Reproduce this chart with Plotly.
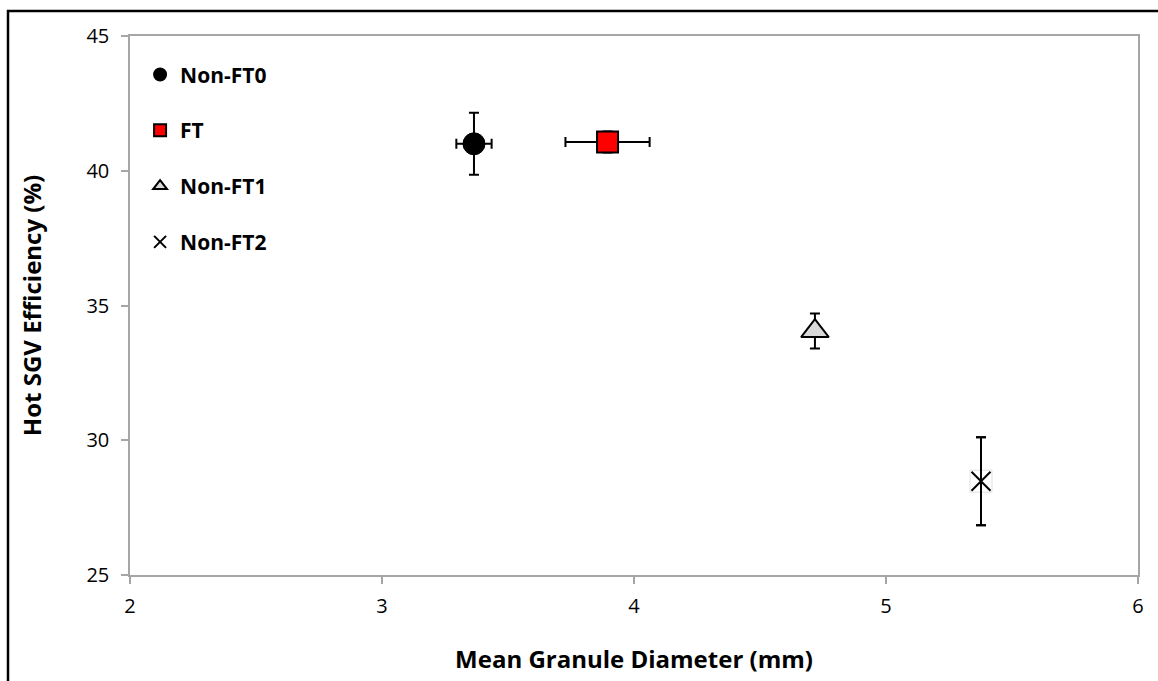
import plotly.graph_objects as go

# Mean granule diameter (mm) and hot SGV efficiency (%) per sample
names = ["Non-FT0", "FT", "Non-FT1", "Non-FT2"]
diameter = [3.365, 3.895, 4.718, 5.377]
diameter_err = [0.07, 0.167, 0.0, 0.0]
efficiency = [41.0, 41.07, 34.05, 28.48]
efficiency_err = [1.15, 0.39, 0.65, 1.63]

x_ticks = [2, 3, 4, 5, 6]
y_ticks = [25, 30, 35, 40, 45]

styles = [
    dict(symbol="circle", size=22, color="black", line=dict(color="black", width=1)),
    dict(symbol="square", size=21, color="#ff0000", line=dict(color="black", width=2)),
    dict(symbol="triangle-up", size=24, color="#d9d9d9", line=dict(color="black", width=2)),
    dict(symbol="x-thin", size=19, color="black", line=dict(color="black", width=2)),
]

fig = go.Figure()

for i, name in enumerate(names):
    if styles[i]["symbol"] == "x-thin":
        # white backing square behind the cross marker
        fig.add_trace(go.Scatter(
            x=[diameter[i]], y=[efficiency[i]], mode="markers",
            marker=dict(symbol="square", size=22, color="white",
                        line=dict(color="#e0e0e0", width=1)),
            error_y=dict(type="data", array=[efficiency_err[i]], color="black",
                         thickness=2, width=5),
            showlegend=False, hoverinfo="skip",
        ))
    fig.add_trace(go.Scatter(
        x=[diameter[i]], y=[efficiency[i]], mode="markers", name=name,
        legendgroup=name,
        marker=styles[i],
        error_x=dict(type="data", array=[diameter_err[i]], color="black",
                     thickness=2, width=5, visible=diameter_err[i] > 0),
        error_y=dict(type="data", array=[efficiency_err[i]], color="black",
                     thickness=2, width=5),
    ))

axis_common = dict(
    showline=True, linecolor="#a6a6a6", linewidth=1.5, mirror=True,
    showgrid=False, zeroline=False, ticks="outside", ticklen=7,
    tickcolor="#a6a6a6", tickwidth=1.5,
    tickfont=dict(family="Open Sans", size=20, color="black"),
)

fig.update_layout(
    width=1158, height=681,
    margin=dict(l=130, r=20, t=36, b=106),
    paper_bgcolor="white", plot_bgcolor="white",
    xaxis=dict(range=[2, 6], tickvals=x_ticks, ticklabelstandoff=5,
               title=dict(text="<b>Mean Granule Diameter (mm)</b>", standoff=33,
                          font=dict(family="Open Sans", size=24, color="black")),
               **axis_common),
    yaxis=dict(range=[25, 45], tickvals=y_ticks, ticklabelstandoff=8,
               title=dict(text="<b>Hot SGV Efficiency (%)</b>", standoff=38,
                          font=dict(family="Open Sans", size=24, color="black")),
               **axis_common),
    legend=dict(x=0.01, y=0.966, xanchor="left", yanchor="top",
                bgcolor="rgba(0,0,0,0)", tracegroupgap=25.5,
                font=dict(family="Open Sans", size=21, color="black", weight="bold"),
                itemsizing="constant"),
    shapes=[dict(type="rect", xref="paper", yref="paper",
                 x0=(8 - 130) / 1008, x1=(1170 - 130) / 1008,
                 y0=(575 - 690) / 539, y1=(575 - 11) / 539,
                 line=dict(color="black", width=2.5), layer="below")],
    showlegend=True,
)

fig.write_html("out.html")
